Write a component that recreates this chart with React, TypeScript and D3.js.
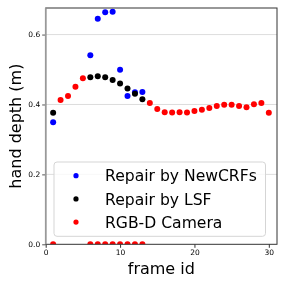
import React, { useEffect, useRef } from "react";
import * as d3 from "d3";

// frame ids and depth readings (m)
const frames = [1, 2, 3, 4, 5, 6, 7, 8, 9, 10, 11, 12, 13, 14, 15, 16, 17, 18, 19, 20, 21, 22, 23, 24, 25, 26, 27, 28, 29, 30];
const rgbdDepth = [0, 0.413, 0.424, 0.451, 0.475, 0, 0, 0, 0, 0, 0, 0, 0, 0.404, 0.387, 0.378, 0.377, 0.378, 0.377, 0.381, 0.385, 0.39, 0.396, 0.399, 0.399, 0.396, 0.392, 0.401, 0.404, 0.376];

const repairFrames = [1, 6, 7, 8, 9, 10, 11, 12, 13];
const lsfDepth = [0.376, 0.478, 0.481, 0.478, 0.47, 0.46, 0.446, 0.431, 0.415];
const newcrfsDepth = [0.349, 0.541, 0.645, 0.664, 0.665, 0.499, 0.424, 0.435, 0.436];

const xTicks = [0, 10, 20, 30];
const yTicks = [0, 0.2, 0.4, 0.6];

const legendItems = [
  { text: "Repair by NewCRFs", color: "#0000ff" },
  { text: "Repair by LSF", color: "#000000" },
  { text: "RGB-D Camera", color: "#ff0000" },
];

const App = () => {
  const ref = useRef<SVGSVGElement>(null);

  useEffect(() => {
    const width = 286;
    const height = 286;
    const margin = { top: 8, left: 45.7, bottom: 41.7, right: 9 };
    const font = "DejaVu Sans";

    const svg = d3.select(ref.current).attr("width", width).attr("height", height);
    svg.selectAll("*").remove();

    const x = d3.scaleLinear().domain([0, 31.1]).range([margin.left, width - margin.right]);
    const y = d3.scaleLinear().domain([0, 0.676]).range([height - margin.bottom, margin.top]);

    svg.append("defs").append("clipPath").attr("id", "plotclip")
      .append("rect")
      .attr("x", margin.left).attr("y", margin.top)
      .attr("width", width - margin.left - margin.right)
      .attr("height", height - margin.top - margin.bottom);

    // horizontal grid
    svg.append("g")
      .selectAll("line")
      .data(yTicks.slice(1))
      .enter().append("line")
      .attr("x1", margin.left).attr("x2", width - margin.right)
      .attr("y1", (d) => y(d)).attr("y2", (d) => y(d))
      .attr("stroke", "#dddddd").attr("stroke-width", 1);

    const dots = svg.append("g").attr("clip-path", "url(#plotclip)");
    const drawSeries = (xs: number[], ys: number[], color: string) => {
      dots.append("g")
        .selectAll("circle")
        .data(xs.map((f, i) => [f, ys[i]]))
        .enter().append("circle")
        .attr("cx", (d) => x(d[0]))
        .attr("cy", (d) => y(d[1]))
        .attr("r", 3)
        .attr("fill", color);
    };
    drawSeries(repairFrames, newcrfsDepth, "#0000ff");
    drawSeries(repairFrames, lsfDepth, "#000000");
    drawSeries(frames, rgbdDepth, "#ff0000");

    // axes
    const xAxis = svg.append("g")
      .attr("transform", `translate(0, ${height - margin.bottom})`)
      .call(d3.axisBottom(x).tickValues(xTicks).tickSize(3.5).tickPadding(2).tickFormat(d3.format("d")));
    xAxis.select(".domain").remove();
    xAxis.selectAll("text").attr("font-size", 7.5).attr("font-family", font).attr("fill", "#000");
    xAxis.selectAll("line").attr("stroke", "#333");

    const yAxis = svg.append("g")
      .attr("transform", `translate(${margin.left}, 0)`)
      .call(d3.axisLeft(y).tickValues(yTicks).tickSize(3.5).tickPadding(2).tickFormat(d3.format(".1f")));
    yAxis.select(".domain").remove();
    yAxis.selectAll("text").attr("font-size", 7.5).attr("font-family", font).attr("fill", "#000");
    yAxis.selectAll("line").attr("stroke", "#555");

    // spines
    svg.append("rect")
      .attr("x", margin.left).attr("y", margin.top)
      .attr("width", width - margin.left - margin.right)
      .attr("height", height - margin.top - margin.bottom)
      .attr("fill", "none").attr("stroke", "#333").attr("stroke-width", 1);
    svg.append("line")
      .attr("x1", margin.left).attr("x2", margin.left)
      .attr("y1", margin.top).attr("y2", height - margin.bottom)
      .attr("stroke", "#999").attr("stroke-width", 1.6);

    // axis labels
    svg.append("text")
      .attr("x", (margin.left + width - margin.right) / 2)
      .attr("y", 274)
      .attr("text-anchor", "middle")
      .attr("font-family", font).attr("font-size", 16)
      .text("frame id");
    svg.append("text")
      .attr("transform", `translate(21, ${(margin.top + height - margin.bottom) / 2}) rotate(-90)`)
      .attr("text-anchor", "middle")
      .attr("font-family", font).attr("font-size", 16)
      .text("hand depth (m)");

    // legend
    const lg = svg.append("g");
    lg.append("rect")
      .attr("x", 54).attr("y", 162)
      .attr("width", 211.5).attr("height", 74.3)
      .attr("rx", 3)
      .attr("fill", "#ffffff").attr("fill-opacity", 0.8)
      .attr("stroke", "#d5d5d5").attr("stroke-width", 1);
    const rows = lg.selectAll("g.row")
      .data(legendItems)
      .enter().append("g")
      .attr("class", "row")
      .attr("transform", (d, i) => `translate(0, ${175.7 + i * 23.2})`);
    rows.append("circle").attr("cx", 76).attr("cy", 0).attr("r", 2.6).attr("fill", (d) => d.color);
    rows.append("text")
      .attr("x", 105).attr("y", 0).attr("dy", "0.36em")
      .attr("font-family", font).attr("font-size", 15.6)
      .text((d) => d.text);
  }, []);

  return (
    <div style={{ position: "fixed", left: 0, top: 0 }}>
      <svg ref={ref} style={{ display: "block" }}></svg>
    </div>
  );
};

export default App;
